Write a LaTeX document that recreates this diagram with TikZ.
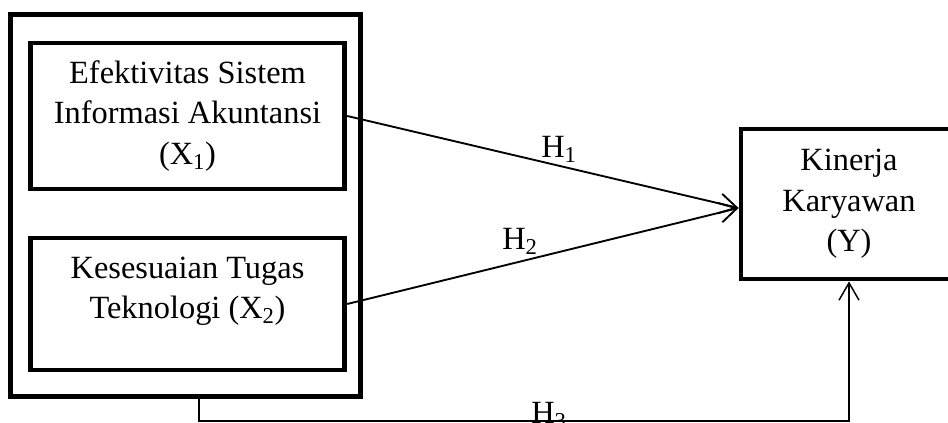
\documentclass[tikz,border=0pt]{standalone}
\usepackage{fontspec}
\setmainfont{Liberation Serif}
\usetikzlibrary{arrows.meta}

\begin{document}
\begin{tikzpicture}[x=0.75pt,y=0.75pt,
  font=\fontsize{24.3}{30.5}\selectfont,
  varbox/.style={draw,line width=3.6pt,align=center,inner sep=0pt},
  hyp/.style={->,line width=1.4pt,>={Straight Barb[length=13pt,width=15pt]}},
  joint/.style={->,line width=1.1pt,>={Straight Barb[length=13pt,width=15pt]}}]
\useasboundingbox (0,0) rectangle (948,423);
\clip (0,0) rectangle (948,423);

\node[varbox,minimum width=263pt,minimum height=287pt] (outer) at (185.5,217.5) {};
\node[varbox,minimum width=236pt,minimum height=109.5pt] (x1) at (187.5,307)
  {Efektivitas Sistem\\Informasi Akuntansi\\(X\textsubscript{1})};
\node[varbox,minimum width=236pt,minimum height=99pt] (x2) at (187.5,119) {};
\node[align=center] (x2text) at ([yshift=9.5pt]x2.center)
  {Kesesuaian Tugas\\Teknologi (X\textsubscript{2})};
\node[varbox,minimum width=162pt,minimum height=112.5pt] (y) at (849,219)
  {Kinerja\\Karyawan\\(Y)};

\draw[hyp] (x1.east) -- ([yshift=-3pt]y.west);
\draw[hyp] (x2.east) -- ([yshift=-3pt]y.west);
\coordinate (turn) at (199,2);
\draw[joint] (outer.south -| turn) -- (turn) -| (y.south);

\node[anchor=base] (h1) at (559,265) {H\textsubscript{1}};
\node[anchor=base] (h2) at (520,173) {H\textsubscript{2}};
\node[anchor=base] (h3) at (549,-0.5) {H\textsubscript{3}};
\end{tikzpicture}
\end{document}
